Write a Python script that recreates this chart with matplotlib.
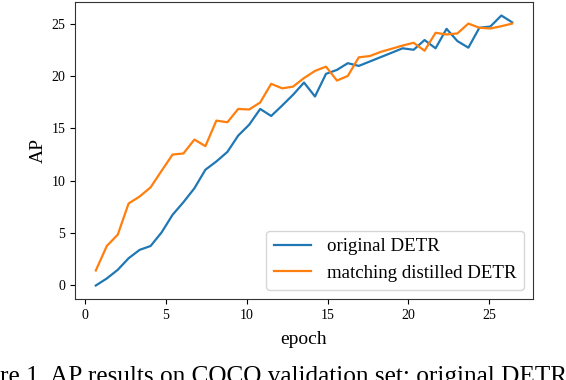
import matplotlib.pyplot as plt

plt.rcParams['font.family'] = ['Liberation Serif', 'DejaVu Serif']

# epochs at which AP was evaluated
epochs = [0.66, 1.34, 2.02, 2.69, 3.37, 4.05, 4.73, 5.41, 6.08, 6.76,
          7.44, 8.12, 8.80, 9.47, 10.15, 10.83, 11.51, 12.19, 12.86, 13.54,
          14.22, 14.90, 15.58, 16.25, 16.93, 17.61, 18.29, 18.97, 19.64, 20.32,
          21.00, 21.68, 22.36, 23.03, 23.71, 24.39, 25.07, 25.75, 26.42]

# AP curves
original_ap = [0.0, 0.67, 1.5, 2.6, 3.4, 3.77, 5.07, 6.75, 7.95, 9.28,
               11.05, 11.84, 12.75, 14.31, 15.35, 16.85, 16.18, 17.18, 18.2, 19.37,
               18.04, 20.2, 20.58, 21.22, 20.96, 21.38, 21.8, 22.22, 22.64, 22.5,
               23.43, 22.64, 24.5, 23.33, 22.7, 24.6, 24.72, 25.77, 25.12]
distilled_ap = [1.43, 3.77, 4.86, 7.83, 8.49, 9.37, 10.95, 12.5, 12.6, 13.93,
                13.3, 15.74, 15.58, 16.85, 16.8, 17.47, 19.25, 18.82, 18.98, 19.8,
                20.48, 20.89, 19.56, 20.0, 21.78, 21.9, 22.3, 22.6, 22.9, 23.17,
                22.41, 24.12, 23.96, 24.06, 25.0, 24.6, 24.53, 24.75, 25.0]

fig = plt.figure(figsize=(5.66, 3.80), dpi=100)
ax = fig.add_axes([0.1325, 0.2132, 0.8092, 0.7815])

ax.plot(epochs, original_ap, color='tab:blue', lw=1.6, label='original DETR')
ax.plot(epochs, distilled_ap, color='tab:orange', lw=1.6, label='matching distilled DETR')

ax.set_xticks([0, 5, 10, 15, 20, 25])
ax.set_yticks([0, 5, 10, 15, 20, 25])
ax.tick_params(labelsize=10)
for s in ax.spines.values():
    s.set_color('#333333')
ax.set_xlabel('epoch', fontsize=14, labelpad=7)
ax.set_ylabel('AP', fontsize=14, labelpad=3)
ax.legend(loc='lower right', fontsize=13.6)

# figure caption, cut off by the image border as in the source
fig.text(0.0, -0.009, 're 1. AP results on COCO validation set: original DETR',
         fontsize=18.2, ha='left', va='baseline')

fig.savefig('out.png', dpi=100)
